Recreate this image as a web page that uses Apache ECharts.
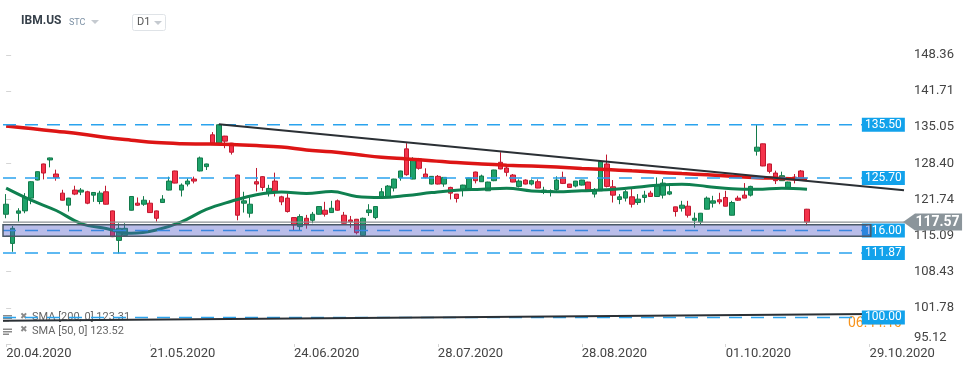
<!DOCTYPE html>
<html><head><meta charset="utf-8">
<script src="https://cdn.jsdelivr.net/npm/echarts@6/dist/echarts.min.js"></script>
<style>html,body{margin:0;padding:0;background:#fff}#c{width:974px;height:368px}</style>
</head><body><div id="c"></div>
<script>
// ---- data ----
const openP = [119.01,113.64,119.20,119.63,121.98,125.31,128.27,129.01,126.42,122.90,
120.68,123.46,123.09,123.15,122.53,121.36,123.15,119.63,114.20,115.12,
119.75,121.05,120.86,121.05,119.63,121.17,123.46,126.98,123.46,124.57,
125.49,126.98,127.78,133.64,132.10,133.40,132.10,126.23,121.05,119.20,
125.00,125.93,123.02,125.12,122.22,121.98,118.40,116.73,118.27,117.90,
119.01,119.75,119.32,121.48,118.83,117.96,118.09,115.12,119.32,118.40,
122.22,122.10,123.83,125.74,131.05,125.49,129.20,126.42,124.57,125.99,
124.57,123.95,122.72,123.52,123.77,126.79,125.00,123.33,125.19,128.58,
127.53,126.23,124.14,125.31,124.57,125.00,123.02,123.15,123.58,125.80,
124.57,124.20,124.38,124.94,122.72,123.33,128.27,124.07,121.73,121.98,
122.22,121.17,122.10,122.90,122.28,122.53,122.72,120.37,120.12,120.49,
117.90,117.59,119.94,121.05,121.67,122.10,118.83,121.98,122.53,122.53,
130.62,131.98,128.27,126.60,125.19,123.95,125.86,126.98,119.94];
const closeP = [120.86,116.42,119.63,122.10,125.00,126.85,126.60,129.38,125.80,121.60,
121.98,122.72,123.46,121.05,123.02,122.90,120.86,114.88,116.42,116.42,
122.28,120.68,121.60,119.32,118.27,121.79,125.12,124.75,124.38,125.12,
125.12,129.38,128.27,132.10,135.49,132.47,130.43,118.83,121.48,120.86,
124.57,123.95,123.77,123.33,121.30,119.51,117.04,118.58,117.16,119.01,
120.43,119.01,120.12,119.75,117.35,117.65,115.62,118.27,119.81,120.43,
123.15,124.20,125.49,126.98,126.30,129.20,127.47,125.80,125.99,124.57,
125.80,122.90,121.91,124.38,125.68,125.19,126.05,124.94,127.16,127.35,
126.73,124.94,125.12,124.57,125.19,123.83,123.46,123.33,125.31,124.69,
123.95,125.12,125.31,123.46,123.46,128.70,124.14,122.53,122.22,123.15,
120.86,121.79,122.53,122.28,124.38,124.75,123.15,119.51,120.68,118.83,
118.27,119.20,121.98,121.48,121.30,120.49,121.17,121.60,121.98,124.14,
131.36,127.90,126.91,125.19,126.11,124.94,125.49,125.68,117.57];
const lowP = [118.27,112.10,117.65,119.20,120.86,125.25,125.43,127.65,125.19,121.55,
119.51,122.53,122.53,120.86,121.30,120.86,120.80,114.80,111.79,115.05,
119.70,120.56,120.56,119.28,117.65,121.10,123.40,124.70,122.28,124.14,
124.69,126.90,127.16,132.03,132.03,131.17,130.00,117.90,119.32,118.40,
123.21,123.33,122.28,122.28,120.68,119.32,115.93,116.05,116.36,117.35,
118.95,118.58,119.25,119.63,117.30,116.54,115.31,115.05,118.70,118.09,
122.10,122.05,123.21,125.19,126.11,125.45,127.22,125.62,124.50,124.50,
124.07,121.73,121.17,122.28,123.70,124.69,124.95,123.30,125.10,127.30,
125.99,124.90,123.95,124.50,124.32,123.80,122.72,122.28,123.33,124.57,
123.90,123.95,124.30,123.40,122.10,123.30,123.95,121.17,120.86,121.36,
120.25,120.74,121.17,122.25,122.25,121.91,122.53,118.58,119.51,118.40,
116.54,117.04,119.90,120.25,120.86,120.45,118.80,121.48,121.95,122.28,
129.81,127.85,126.54,124.57,125.15,123.90,124.69,125.19,116.98];
const highP = [122.72,116.85,120.12,122.90,125.10,126.90,128.33,129.45,127.22,123.52,
122.03,124.26,123.83,123.33,123.10,123.33,124.26,119.70,117.35,117.35,
122.35,122.10,122.35,121.60,119.70,122.53,125.93,127.03,124.69,125.62,
125.93,129.63,128.33,134.14,135.60,133.45,132.15,126.30,123.15,122.10,
127.53,126.05,124.44,126.67,122.41,122.84,118.45,119.01,118.89,119.44,
120.50,121.30,121.48,121.73,119.44,118.70,118.15,118.40,120.86,120.50,
123.83,124.38,125.55,127.03,132.10,129.51,129.38,127.47,126.05,126.23,
125.85,124.07,122.75,124.45,125.72,126.85,126.30,125.00,127.20,130.43,
127.78,126.42,125.43,125.43,125.43,125.43,124.07,123.58,125.99,126.85,
124.60,125.15,125.35,125.00,123.83,128.75,130.00,125.31,122.72,123.46,
123.64,122.72,123.33,123.33,125.80,125.49,124.75,120.40,121.48,121.48,
119.32,119.25,122.28,122.41,122.96,123.33,121.48,122.41,124.75,124.26,
135.56,132.03,128.33,127.04,126.85,125.00,126.42,127.16,120.00];

// moving averages read every 4 candles
const smaIdx = [0,4,8,12,16,20,24,28,32,36,40,44,48,52,56,60,64,68,72,76,80,84,88,92,96,100,104,108,112,116,120,124,128];
const sma200 = [135.25,134.78,134.30,133.80,133.15,132.65,132.20,132.00,131.95,131.85,131.65,131.38,130.86,130.50,130.00,129.50,129.20,128.88,128.52,128.28,128.05,127.88,127.70,127.45,127.25,127.00,126.75,126.50,126.28,126.00,125.75,125.60,125.40];
const sma50 = [123.83,121.60,119.70,117.30,116.40,115.50,116.10,117.60,119.90,121.40,122.60,123.10,122.85,123.20,122.30,122.10,122.45,123.00,123.45,123.60,123.80,123.30,123.15,123.35,123.50,123.90,124.35,124.55,124.14,123.70,123.60,123.80,123.60];

const levelValues = [135.50,125.70,116.00,111.87,100.00];
const levelLabels = ['135.50','125.70','116.00','111.87','100.00'];
const lastPrice = 117.57;
const bandRange = [114.95, 117.10];
const trendDown = [[34,135.60],[143.5,123.45]];
const trendUp = [[-0.5,99.40],[143.5,100.70]];

const yTickLabels = ['95.12','101.78','108.43','115.09','121.74','128.40','135.05','141.71','148.36'];
const xTickIndex = [0,23,46,69,92,115,138];
const xTickLabels = ['20.04.2020','21.05.2020','24.06.2020','28.07.2020','28.08.2020','01.10.2020','29.10.2020'];
const legendTexts = ['SMA [200, 0] 123.31','SMA [50, 0] 123.52'];

// ---- build ----
const NCAT = 144;
const categories = Array.from({length: NCAT}, (_, i) => String(i));
const candleData = openP.map((o, i) => [o, closeP[i], lowP[i], highP[i]]);
const isTick = (i) => xTickIndex.indexOf(i) >= 0;
const levelEndX = 136.8, tagX = 140.2, lastTagX = 148.06;
const Y0 = 95.12, YI = 6.655;

const chart = echarts.init(document.getElementById('c'), null, {renderer: 'canvas'});
const series = [];
series.push({
  type: 'candlestick', xAxisIndex: 0, yAxisIndex: 0, z: 2, barWidth: 5,
  data: candleData,
  itemStyle: {color: '#1fa36b', color0: '#f5334b', borderColor: '#137a4b', borderColor0: '#c0182f', borderWidth: 1}
});
series.push({
  type: 'line', xAxisIndex: 1, z: 3, symbol: 'none', smooth: 0.4,
  data: smaIdx.map((x, i) => [x, sma200[i]]),
  lineStyle: {color: '#dd1515', width: 3.5}
});
series.push({
  type: 'line', xAxisIndex: 1, z: 3, symbol: 'none', smooth: 0.4,
  data: smaIdx.map((x, i) => [x, sma50[i]]),
  lineStyle: {color: '#0f8050', width: 3}
});
levelValues.forEach((v) => {
  series.push({
    type: 'line', xAxisIndex: 1, z: 3, symbol: 'none',
    data: [[-0.5, v], [levelEndX, v]],
    lineStyle: {color: '#2aa3ee', width: 1.5, type: [13, 9]}
  });
});
series.push({
  type: 'line', xAxisIndex: 1, z: 3, symbol: 'none',
  data: [[-0.5, lastPrice], [143.5, lastPrice]],
  lineStyle: {color: '#8a8f93', width: 1.2}
});
series.push({
  type: 'line', xAxisIndex: 1, z: 4, symbol: 'none',
  data: trendDown, lineStyle: {color: '#2b3035', width: 2}
});
series.push({
  type: 'line', xAxisIndex: 1, z: 4, symbol: 'none',
  data: trendUp, lineStyle: {color: '#2b3035', width: 2}
});
series.push({
  type: 'scatter', xAxisIndex: 1, z: 6, clip: false,
  symbol: 'rect', symbolSize: [43, 14],
  data: levelValues.map((v, i) => ({value: [tagX, v], label: {formatter: levelLabels[i]}})),
  itemStyle: {color: '#12a2eb', opacity: 1},
  label: {show: true, position: 'inside', color: '#fff', fontSize: 12, fontFamily: 'Roboto'}
});
series.push({
  type: 'custom', xAxisIndex: 1, z: 7, clip: false,
  data: [[-0.5, 138.2, bandRange[0], bandRange[1]]],
  renderItem: (params, api) => {
    const p0 = api.coord([api.value(0), api.value(3)]);
    const p1 = api.coord([api.value(1), api.value(2)]);
    return {type: 'rect', shape: {x: p0[0], y: p0[1], width: p1[0] - p0[0], height: p1[1] - p0[1]},
      style: {fill: 'rgba(80,90,200,0.40)', stroke: '#4b5967', lineWidth: 1.5}};
  }
});
series.push({
  type: 'scatter', xAxisIndex: 1, z: 8, clip: false,
  symbol: 'path://M0,8.5L12,0L59,0L59,17L12,17Z', symbolSize: [59, 17], symbolKeepAspect: false,
  data: [[lastTagX, lastPrice]],
  itemStyle: {color: '#8b959b', opacity: 1},
  label: {show: true, position: 'inside', offset: [5, 0], formatter: lastPrice.toFixed(2), color: '#fff', fontSize: 14, fontWeight: 'bold', fontFamily: 'Roboto'}
});

const graphic = [
  {type: 'text', left: 21, top: 15, z: 1, style: {text: 'IBM.US', fill: '#37414b', font: 'bold 12px Roboto'}},
  {type: 'text', left: 69, top: 18, z: 1, style: {text: 'STC', fill: '#7d91a5', font: '9px Roboto'}},
  {type: 'polygon', z: 1, shape: {points: [[91, 20], [99, 20], [95, 24]]}, style: {fill: '#c5cad0'}},
  {type: 'rect', z: 1, shape: {x: 132.5, y: 14.5, width: 33, height: 16, r: 2}, style: {fill: 'none', stroke: '#dfe3e7', lineWidth: 1}},
  {type: 'text', left: 137, top: 17, z: 1, style: {text: 'D1', fill: '#555', font: '11px Roboto'}},
  {type: 'polygon', z: 1, shape: {points: [[154, 21], [162, 21], [158, 25]]}, style: {fill: '#c5cad0'}},
  {type: 'text', left: 848, top: 316, z: 1, style: {text: '06:44:10', fill: '#f7941d', font: '14px Roboto'}}
];
legendTexts.forEach((t, k) => {
  const y = 315 + k * 13.5;
  [0, 2.5, 5].forEach((d, j) => graphic.push({type: 'rect', z: 1, shape: {x: 3, y: y + d, width: j === 2 ? 6 : 9, height: 1.5}, style: {fill: '#8a8a8a'}}));
  graphic.push({type: 'text', left: 20, top: y - 3, z: 1, style: {text: '\u2716', fill: '#8a8a8a', font: '9px DejaVu Sans'}});
  graphic.push({type: 'text', left: 32, top: y - 3, z: 1, style: {text: t, fill: '#666', font: '11px Roboto'}});
});

chart.setOption({
  animation: false,
  textStyle: {fontFamily: 'Roboto'},
  grid: {left: 3, right: 70, top: 34, bottom: 24, containLabel: false},
  xAxis: [
    {type: 'category', data: categories, boundaryGap: true,
     axisLine: {show: false},
     axisTick: {show: true, alignWithLabel: true, interval: (i) => isTick(i), length: 3, lineStyle: {color: '#d5d5d5'}},
     axisLabel: {interval: (i) => isTick(i), align: 'left', margin: 3, fontSize: 13, color: '#444',
       formatter: (v, i) => { const k = xTickIndex.indexOf(Number(v)); return k >= 0 ? xTickLabels[k] : ''; }},
     splitLine: {show: false}},
    {type: 'value', min: -0.5, max: NCAT - 0.5, show: false}
  ],
  yAxis: {
    type: 'value', position: 'right', min: Y0, max: 152.2, interval: YI, scale: false,
    splitLine: {show: false}, axisLine: {show: false},
    axisTick: {show: true, length: 5, lineStyle: {color: '#d5d5d5'}},
    axisLabel: {margin: 10, color: '#444', fontSize: 13, showMaxLabel: false, showMinLabel: true,
      verticalAlign: 'middle',
      rich: {lo: {padding: [0, 0, 12, 0], fontSize: 13, color: '#444'}},
      formatter: (v) => {
        const k = Math.round((v - Y0) / YI);
        if (k < 0 || k >= yTickLabels.length || Math.abs(v - (Y0 + k * YI)) > 0.01) return '';
        return k === 0 ? '{lo|' + yTickLabels[0] + '}' : yTickLabels[k];
      }}
  },
  graphic: graphic,
  series: series
});
</script>
</body></html>
